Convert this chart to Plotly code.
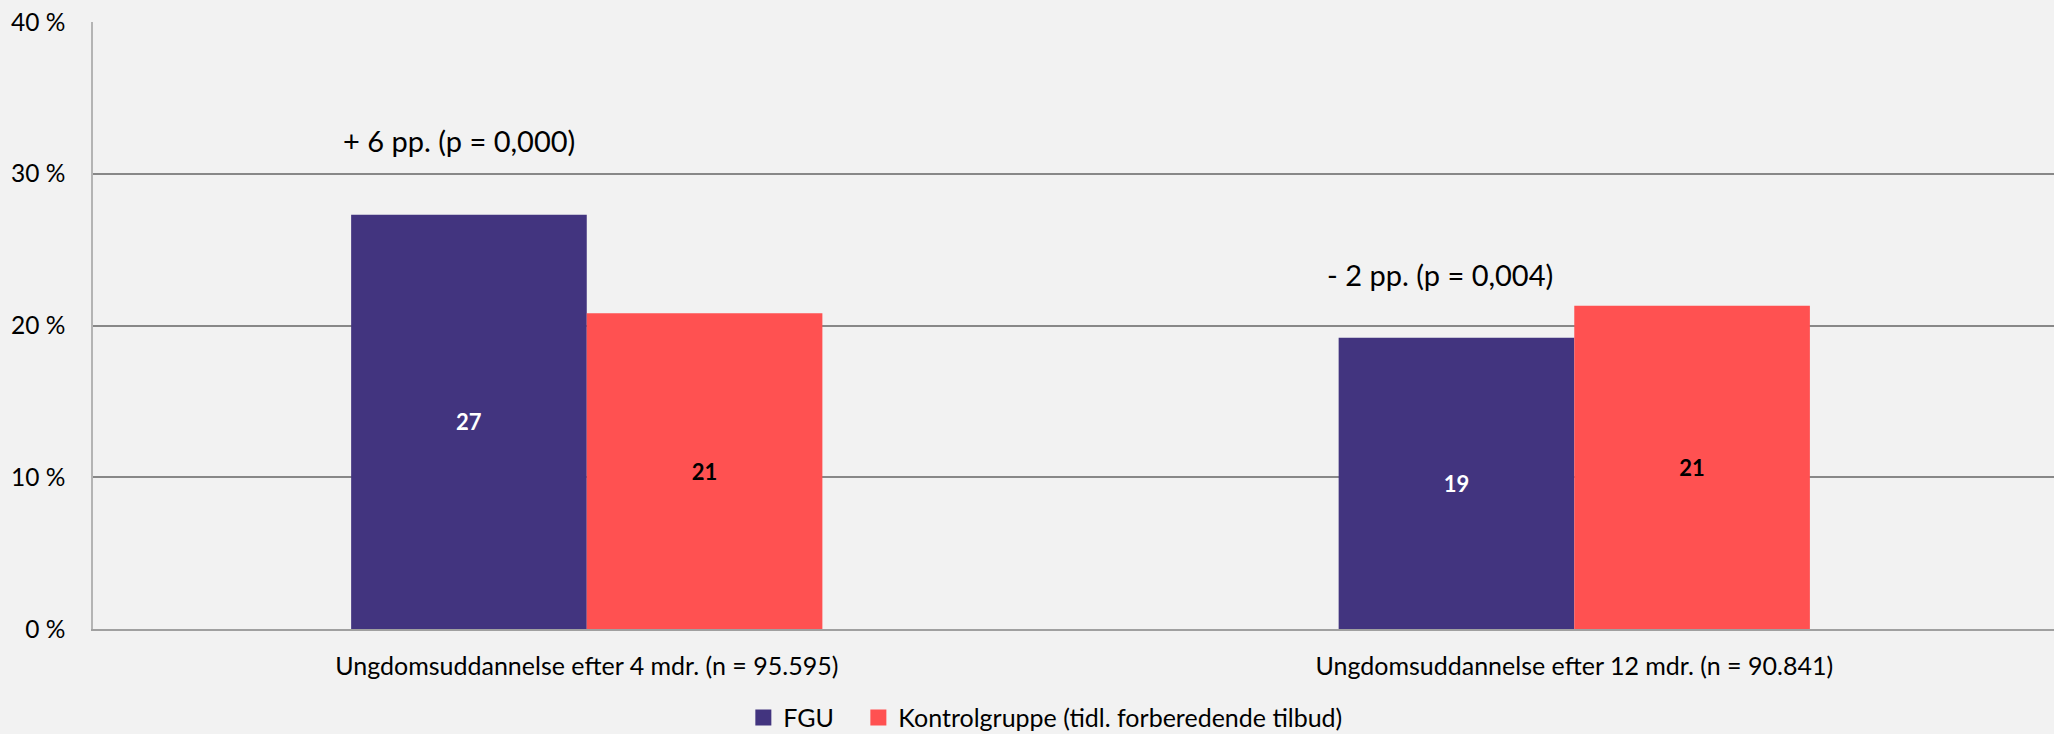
import plotly.graph_objects as go

categories = ["Ungdomsuddannelse efter 4 mdr. (n = 95.595)",
              "Ungdomsuddannelse efter 12 mdr. (n = 90.841)"]
fgu = [27.3, 19.2]
kontrol = [20.8, 21.3]
series_names = ["FGU", "Kontrolgruppe (tidl. forberedende tilbud)"]
diff_labels = ["+ 6 pp. (p = 0,000)", "- 2 pp. (p = 0,004)"]
y_ticks = [0, 10, 20, 30, 40]
y_ticktext = ["0 %", "10 %", "20 %", "30 %", "40 %"]

FONT = "Lato"
BG = "#F2F2F2"
PURPLE = "#42347F"
RED = "#FF5151"
colors = [PURPLE, RED]

fig = go.Figure()
BW = 0.2386
fig.add_trace(go.Bar(
    x=categories, y=fgu, name=series_names[0], showlegend=False,
    marker=dict(color=PURPLE, line=dict(width=0)),
    width=BW, offset=-BW,
    texttemplate="%{y:.0f}", textposition="inside", insidetextanchor="middle",
    textfont=dict(color="white", size=22, family=FONT, weight="bold"),
))
fig.add_trace(go.Bar(
    x=categories, y=kontrol, name=series_names[1], showlegend=False,
    marker=dict(color=RED, line=dict(width=0)),
    width=BW, offset=0,
    texttemplate="%{y:.0f}", textposition="inside", insidetextanchor="middle",
    textfont=dict(color="black", size=22, family=FONT, weight="bold"),
))
# legend entries (square swatches), one legend box each for exact placement
legend_ids = ["legend", "legend2"]
for name, c, lid in zip(series_names, colors, legend_ids):
    fig.add_trace(go.Scatter(x=[None], y=[None], mode="markers", name=name,
                             marker=dict(symbol="square", size=16, color=c),
                             showlegend=True, legend=lid))

ann_y = [32.18, 23.35]
ann_dx = [-0.129, -0.1355]
for i, lab in enumerate(diff_labels):
    fig.add_annotation(x=i + ann_dx[i], y=ann_y[i], xref="x", yref="y",
                       text=lab, showarrow=False,
                       font=dict(size=29, family=FONT, color="black"))

legend_style = dict(orientation="h", xref="container", yref="container",
                    y=0.022, xanchor="left", yanchor="middle",
                    font=dict(size=25, family=FONT), bgcolor="rgba(0,0,0,0)",
                    itemwidth=30)

fig.update_layout(
    width=2054, height=734,
    paper_bgcolor=BG, plot_bgcolor=BG,
    margin=dict(l=93, r=0, t=22, b=105, autoexpand=False),
    font=dict(family=FONT, size=24, color="black"),
    barmode="overlay",
    showlegend=True,
    legend=dict(x=0.3619, **legend_style),
    legend2=dict(x=0.4179, **legend_style),
)
fig.update_yaxes(range=[0, 40], tickvals=y_ticks, ticktext=y_ticktext,
                 showgrid=True, gridcolor="#888888", gridwidth=2,
                 zeroline=False, showline=True, linecolor="#B4B4B4", linewidth=1.5,
                 ticks="", ticklabelstandoff=21, tickfont=dict(size=24.5),
                 automargin=False)
fig.update_xaxes(range=[-0.5, 1.4858], showgrid=False, showline=True,
                 linecolor="#A0A0A0", linewidth=2,
                 ticks="", ticklabelstandoff=14, tickfont=dict(size=25),
                 automargin=False)

fig.write_html("out.html", config={"displayModeBar": False},
               post_script="document.body.style.margin='0';document.body.style.overflow='hidden';")
